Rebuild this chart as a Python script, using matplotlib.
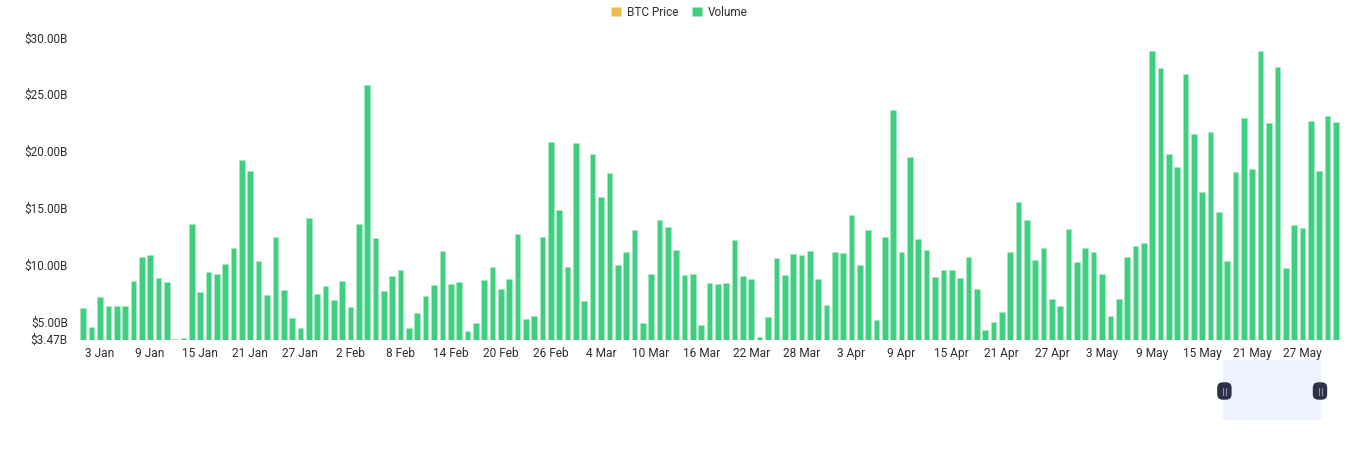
# BTC daily spot volume, Jan to May, with the range slider under the chart.

import matplotlib
matplotlib.use("Agg")
import numpy as np
import pandas as pd
import matplotlib.pyplot as plt
from matplotlib.patches import Patch, Rectangle, FancyBboxPatch
from matplotlib.transforms import ScaledTranslation

plt.rcParams["font.family"] = ["Roboto", "DejaVu Sans"]

dates = pd.date_range("2023-01-01", "2023-05-31", freq="D")

# Volume in $B
volume_jan = [6.29, 4.61, 7.23, 6.46, 6.46, 6.46, 8.63, 10.81, 10.95, 8.90, 8.60,
              3.53, 3.62, 13.71, 7.70, 9.46, 9.28, 10.13, 11.57, 19.29, 18.35, 10.42,
              7.40, 12.57, 7.87, 5.41, 4.50, 14.21, 7.55, 8.19, 6.99]
volume_feb = [8.66, 6.40, 13.68, 25.90, 12.45, 7.78, 9.13, 9.60, 4.53, 5.88, 7.34,
              8.31, 11.30, 8.37, 8.58, 4.26, 4.94, 8.72, 9.90, 7.96, 8.84, 12.77,
              5.32, 5.55, 12.57, 20.87, 14.94, 9.90]
volume_mar = [20.81, 6.87, 19.81, 16.03, 18.14, 10.10, 11.19, 13.12, 4.97, 9.28, 14.03,
              13.42, 11.39, 9.19, 9.31, 4.76, 8.49, 8.40, 8.49, 12.24, 9.10, 8.81,
              3.76, 5.47, 10.66, 9.19, 11.04, 10.95, 11.30, 8.84, 6.55]
volume_apr = [11.25, 11.16, 14.47, 10.07, 13.15, 5.23, 12.54, 23.72, 11.25, 19.55, 12.36,
              11.36, 8.99, 9.66, 9.60, 8.90, 10.78, 7.99, 4.35, 5.03, 5.91, 11.22,
              15.59, 14.03, 10.48, 11.54, 7.08, 6.43, 13.24, 10.37]
volume_may = [11.57, 11.19, 9.31, 5.58, 7.08, 10.78, 11.74, 12.01, 28.91, 27.41, 19.84,
              18.73, 26.90, 21.60, 16.50, 21.75, 14.74, 10.40, 18.26, 23.05, 18.52, 28.90,
              22.57, 27.50, 9.80, 13.56, 13.33, 22.75, 18.36, 23.15, 22.66]
volume = volume_jan + volume_feb + volume_mar + volume_apr + volume_may

y_ticks = [3.47, 5, 10, 15, 20, 25, 30]
y_tick_labels = ["$3.47B", "$5.00B", "$10.00B", "$15.00B", "$20.00B", "$25.00B", "$30.00B"]

GREEN = "#3ecf7f"
GOLD = "#eebb4d"
TEXT = "#2e2e33"

fig = plt.figure(figsize=(13.6, 4.5), dpi=100)

# Plot area in pixels: x 79..1340, y 38.6..340
ax = fig.add_axes([79 / 1360, 1 - 340 / 450, (1340 - 79) / 1360, (340 - 38.6) / 450])
x = np.arange(len(volume))
ax.bar(x, volume, width=0.68, color=GREEN, edgecolor="#a5ebc4", linewidth=0.5)

step = 8.35
ax.set_xlim((79 - 83.3) / step, (1340 - 83.3) / step)
ax.set_ylim(3.47, 30)

tick_idx = x[2::6]
ax.set_xticks(tick_idx)
ax.set_xticklabels([f"{dates[i].day} {dates[i]:%b}" for i in tick_idx])
ax.set_yticks(y_ticks)
ax.set_yticklabels(y_tick_labels)
ax.tick_params(axis="x", length=0, pad=5, labelsize=8.6, labelcolor=TEXT)
ax.tick_params(axis="y", length=0, pad=8, labelsize=8.5, labelcolor=TEXT)
for spine in ax.spines.values():
    spine.set_visible(False)

# y labels sit about a pixel higher than the bars' scale
nudge = ScaledTranslation(0, 1.2 / 100, fig.dpi_scale_trans)
for lab in ax.get_yticklabels():
    lab.set_transform(lab.get_transform() + nudge)

handles = [
    Patch(facecolor=GOLD, edgecolor="#f6dfa9", linewidth=0.6, label="BTC Price"),
    Patch(facecolor=GREEN, edgecolor="#a5ebc4", linewidth=0.6, label="Volume"),
]
fig.legend(handles=handles, loc="center", bbox_to_anchor=(0.4996, 1 - 12 / 450), ncol=2,
           frameon=False, fontsize=8.5, labelcolor=TEXT, handlelength=0.85, handleheight=0.85,
           handletextpad=0.5, columnspacing=1.15, borderpad=0)

# Range slider, drawn in pixel coordinates
overlay = fig.add_axes([0, 0, 1, 1])
overlay.set_xlim(0, 1360)
overlay.set_ylim(450, 0)
overlay.axis("off")
overlay.add_patch(Rectangle((1223, 360), 98, 60, facecolor="#eef2fe", edgecolor="none"))
for hx in [1224.4, 1320]:
    overlay.add_patch(FancyBboxPatch((hx - 4, 385.5), 8, 11, boxstyle="round,pad=3.2,rounding_size=5.5",
                                     facecolor="#2c3149", edgecolor="none"))
    for dx in [-1.5, 1.5]:
        overlay.plot([hx + dx, hx + dx], [388, 394.5], color="#8d91a3", linewidth=0.8)

fig.savefig("out.png", dpi=100)
plt.close(fig)
